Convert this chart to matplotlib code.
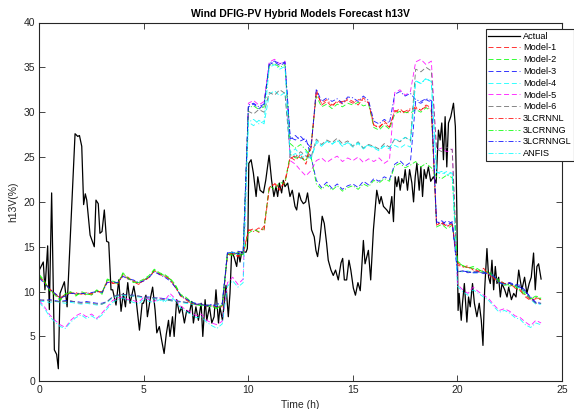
import matplotlib
matplotlib.use('Agg')
import matplotlib.pyplot as plt
import numpy as np

# Datos (h13V en %)
actual_pts = [
    (0.00, 12.4), (0.19, 13.3), (0.27, 10.2), (0.40, 15.1), (0.48, 8.0), (0.59, 21.0),
    (0.72, 3.5), (0.83, 3.0), (0.91, 1.4), (0.99, 9.8), (1.20, 11.1), (1.33, 8.3),
    (1.71, 27.6), (1.84, 27.3), (1.92, 27.4), (2.03, 26.2), (2.12, 19.7), (2.20, 20.9),
    (2.27, 20.2), (2.43, 16.3), (2.63, 15.0), (2.71, 20.2), (2.82, 19.8), (2.90, 16.5),
    (3.00, 16.7), (3.11, 19.1), (3.22, 15.6), (3.32, 15.5), (3.43, 10.2), (3.51, 10.2),
    (3.67, 8.5), (3.80, 11.3), (3.91, 7.8), (4.02, 9.8), (4.12, 8.3), (4.23, 11.0),
    (4.34, 8.7), (4.52, 10.6), (4.63, 9.1), (4.79, 5.7), (4.92, 8.7),
    (4.98, 8.7), (5.10, 9.6), (5.17, 7.2), (5.30, 9.1), (5.42, 10.5), (5.54, 7.9),
    (5.62, 5.4), (5.74, 6.1), (5.85, 4.6), (5.97, 3.1), (6.07, 5.2), (6.18, 6.8),
    (6.25, 5.0), (6.37, 7.2), (6.45, 5.0), (6.57, 9.1), (6.70, 7.6), (6.81, 8.3),
    (6.94, 6.5), (7.05, 7.9), (7.18, 7.6), (7.29, 8.9), (7.37, 6.5), (7.49, 8.3),
    (7.61, 6.8), (7.74, 8.7), (7.82, 5.0), (7.93, 9.1), (8.01, 6.8), (8.14, 8.3),
    (8.25, 6.5), (8.36, 7.2), (8.45, 10.2), (8.57, 6.5), (8.64, 8.3), (8.76, 6.8),
    (8.93, 10.7), (9.04, 7.2), (9.12, 9.8), (9.20, 14.4), (9.31, 13.9), (9.44, 12.8),
    (9.52, 14.4), (9.60, 13.3), (9.68, 14.4), (9.89, 14.4), (9.95, 14.8), (9.98, 16.9),
    (10.02, 24.3), (10.13, 24.7), (10.24, 23.2), (10.37, 20.6), (10.45, 22.8), (10.56, 21.3),
    (10.72, 21.0), (10.83, 22.4), (10.99, 25.2), (11.11, 22.4), (11.22, 20.6), (11.32, 21.7),
    (11.40, 20.6), (11.48, 22.1), (11.59, 21.0), (11.67, 22.4), (11.75, 21.7), (11.88, 22.1),
    (11.99, 20.6), (12.10, 21.3), (12.23, 19.5), (12.31, 19.1), (12.42, 21.0), (12.52, 20.2),
    (12.63, 19.8), (12.74, 20.0), (12.83, 21.0), (12.94, 19.1), (13.02, 16.9), (13.15, 16.1),
    (13.23, 14.6), (13.31, 13.9), (13.42, 15.8), (13.53, 18.4), (13.63, 17.6), (13.74, 15.4),
    (13.82, 13.5), (13.95, 12.4), (14.06, 11.8), (14.17, 12.4), (14.30, 11.3), (14.43, 13.2),
    (14.51, 13.7), (14.59, 11.3), (14.70, 11.3), (14.81, 13.5), (14.90, 12.4), (15.02, 10.4),
    (15.12, 9.6), (15.24, 11.0), (15.35, 10.1), (15.42, 12.6), (15.50, 15.7), (15.58, 13.1),
    (15.74, 14.6), (15.85, 11.3), (15.98, 16.9), (16.14, 21.3), (16.27, 19.8), (16.35, 20.6),
    (16.46, 19.5), (16.62, 19.1), (16.74, 18.7), (16.86, 20.6), (16.94, 17.8), (17.02, 22.8),
    (17.10, 21.7), (17.18, 22.8), (17.26, 21.3), (17.34, 22.6), (17.42, 22.1), (17.50, 23.6),
    (17.61, 21.3), (17.71, 23.6), (17.82, 22.1), (17.90, 20.0), (17.98, 22.8), (18.06, 24.3),
    (18.17, 21.3), (18.25, 23.9), (18.33, 20.6), (18.41, 23.6), (18.50, 22.6), (18.61, 23.9),
    (18.72, 22.3), (18.85, 22.8), (18.98, 22.1), (19.09, 28.0), (19.17, 26.9), (19.25, 28.8),
    (19.33, 24.7), (19.41, 29.5), (19.49, 23.9), (19.57, 28.8), (19.68, 29.5), (19.81, 31.0),
    (19.90, 28.4), (19.97, 19.1), (20.03, 7.9), (20.08, 9.8), (20.18, 6.8), (20.24, 8.7),
    (20.33, 10.9), (20.45, 6.6), (20.53, 9.4), (20.61, 8.3), (20.72, 10.9), (20.81, 8.7),
    (20.93, 7.2), (21.04, 8.7), (21.14, 6.8), (21.22, 4.0), (21.30, 10.2), (21.41, 14.8),
    (21.49, 11.6), (21.57, 10.9), (21.65, 13.5), (21.73, 10.2), (21.81, 12.8), (21.89, 10.9),
    (21.97, 11.6), (22.05, 9.4), (22.13, 10.9), (22.26, 10.2), (22.37, 9.4), (22.45, 10.5),
    (22.58, 9.1), (22.69, 9.8), (22.80, 9.4), (22.93, 12.4), (23.00, 11.3), (23.08, 10.2),
    (23.21, 11.6), (23.32, 9.8), (23.43, 10.9), (23.53, 11.6), (23.64, 14.3), (23.72, 10.2),
    (23.80, 12.8), (23.88, 13.1), (24.00, 11.4),
]

# tiempo de los modelos (cada 15 min)
hours = np.arange(0, 24.01, 0.25)

model_1 = [
    11.7, 11.0, 10.3, 9.8, 9.2, 9.6, 9.9, 9.7,
    9.9, 9.6, 9.8, 10.1, 9.8, 11.2, 11.0, 10.8,
    11.9, 11.4, 11.2, 10.9, 11.2, 11.6, 12.3, 12.0,
    11.8, 11.3, 10.6, 9.5, 9.2, 8.8, 8.5, 8.6,
    8.3, 8.5, 8.2, 8.4, 14.0, 14.2, 13.9, 14.3,
    16.8, 17.0, 16.6, 17.3, 21.5, 22.0, 21.3, 22.4,
    25.0, 24.6, 25.3, 24.2, 26.0, 32.5, 30.8, 31.2,
    30.6, 31.3, 30.9, 31.5, 31.2, 30.8, 31.6, 31.0,
    28.6, 28.2, 29.0, 28.4, 30.0, 30.4, 29.8, 30.3,
    30.6, 30.2, 30.8, 30.5, 17.4, 17.8, 17.2, 17.7,
    13.0, 12.7, 12.9, 12.4, 12.2, 12.6, 11.9, 11.4,
    11.1, 10.8, 11.0, 10.4, 10.1, 9.4, 9.0, 9.2,
    9.1]

model_2 = [
    11.9, 11.2, 10.1, 9.6, 9.0, 9.8, 10.0, 9.5,
    10.0, 9.8, 9.6, 10.2, 9.7, 11.4, 11.2, 10.9,
    12.1, 11.5, 11.0, 11.1, 11.4, 11.8, 12.5, 12.1,
    11.9, 11.5, 10.8, 9.7, 9.4, 8.9, 8.6, 8.4,
    8.5, 8.3, 8.1, 8.5, 14.2, 14.0, 14.4, 14.1,
    16.5, 16.9, 16.7, 17.0, 21.8, 21.4, 22.2, 22.0,
    25.3, 24.9, 25.0, 24.5, 26.5, 31.8, 30.6, 30.9,
    30.4, 30.9, 30.6, 31.0, 30.8, 31.1, 30.7, 30.9,
    28.3, 28.0, 28.6, 28.1, 29.8, 30.1, 30.0, 29.9,
    30.3, 30.0, 30.5, 30.1, 17.2, 17.5, 17.0, 17.4,
    13.4, 12.9, 12.6, 12.8, 12.5, 12.1, 12.3, 11.6,
    11.3, 10.9, 10.6, 10.8, 10.3, 9.8, 9.2, 9.5,
    9.3]

model_3 = [
    9.1, 9.0, 9.1, 9.0, 8.9, 9.0, 8.9, 8.9,
    8.8, 8.9, 8.8, 8.7, 8.7, 8.9, 9.4, 9.6,
    9.7, 9.6, 9.6, 9.5, 9.4, 9.4, 9.3, 9.3,
    9.2, 9.1, 9.0, 8.9, 8.8, 8.8, 8.7, 8.6,
    8.5, 8.5, 8.6, 8.7, 14.4, 14.3, 14.5, 14.4,
    30.6, 30.9, 30.4, 30.8, 35.3, 35.6, 35.2, 35.5,
    27.0, 27.4, 26.8, 27.1, 25.0, 22.4, 21.6, 22.2,
    21.5, 22.0, 21.4, 21.8, 22.0, 21.6, 22.3, 21.9,
    22.6, 22.3, 22.8, 22.5, 24.2, 24.6, 24.0, 24.4,
    31.2, 31.0, 31.4, 31.1, 17.8, 17.5, 17.9, 17.6,
    12.2, 12.3, 12.1, 12.2, 12.2, 12.0, 12.1, 11.8,
    11.0, 10.9, 11.0, 10.8, 10.7, 10.1, 9.3, 8.7,
    8.7]

model_4 = [
    8.9, 8.9, 8.8, 8.9, 8.8, 8.7, 8.8, 8.7,
    8.6, 8.7, 8.6, 8.5, 8.6, 8.8, 9.3, 9.5,
    9.6, 9.5, 9.5, 9.4, 9.3, 9.2, 9.2, 9.1,
    9.0, 9.0, 8.9, 8.8, 8.7, 8.6, 8.6, 8.5,
    8.4, 8.3, 8.5, 8.6, 14.2, 14.4, 14.1, 14.3,
    28.9, 28.5, 29.1, 28.7, 32.0, 32.4, 31.8, 32.2,
    25.5, 25.9, 25.2, 25.6, 24.8, 26.6, 26.2, 26.8,
    26.4, 26.9, 26.3, 26.6, 26.1, 26.5, 25.9, 26.3,
    26.0, 25.7, 26.2, 25.9, 26.3, 26.0, 26.4, 26.1,
    33.5, 33.2, 33.8, 33.4, 23.3, 23.1, 23.4, 23.2,
    12.3, 12.2, 12.3, 12.1, 12.1, 12.2, 12.0, 11.6,
    11.0, 10.8, 10.9, 10.6, 10.4, 9.9, 9.1, 8.6,
    8.6]

model_5 = [
    9.0, 8.3, 7.4, 6.8, 6.3, 6.0, 6.8, 7.3,
    7.6, 7.2, 7.5, 7.0, 7.6, 8.3, 9.0, 9.3,
    9.4, 9.1, 9.0, 8.8, 9.4, 9.1, 8.9, 9.3,
    9.0, 9.8, 9.2, 8.4, 8.0, 7.7, 7.3, 7.5,
    6.8, 6.5, 6.3, 6.7, 11.0, 11.6, 10.8, 11.4,
    31.0, 31.3, 30.8, 31.2, 35.6, 35.9, 35.4, 35.7,
    24.6, 24.2, 23.5, 22.9, 23.5, 24.6, 24.9, 24.4,
    24.8, 25.1, 24.5, 24.9, 24.6, 25.0, 24.4, 24.8,
    24.5, 24.9, 24.3, 24.7, 32.2, 32.5, 31.9, 32.3,
    35.6, 35.9, 35.3, 35.7, 25.8, 26.0, 25.6, 25.9,
    10.8, 10.2, 9.8, 10.5, 10.0, 9.6, 9.2, 8.5,
    7.9, 8.1, 7.8, 7.3, 7.1, 6.6, 6.2, 6.8,
    6.5]

model_6 = [
    9.0, 9.1, 9.0, 8.9, 8.9, 8.9, 9.0, 8.8,
    8.7, 8.8, 8.7, 8.6, 8.6, 8.9, 9.4, 9.6,
    9.7, 9.6, 9.5, 9.5, 9.4, 9.3, 9.3, 9.2,
    9.1, 9.0, 8.9, 8.9, 8.8, 8.7, 8.6, 8.6,
    8.5, 8.4, 8.6, 8.7, 14.3, 14.2, 14.4, 14.2,
    30.1, 29.8, 30.3, 30.0, 32.2, 31.9, 32.5, 32.1,
    25.3, 25.0, 25.6, 25.1, 25.0, 27.0, 26.4, 26.9,
    26.6, 27.1, 26.5, 26.8, 26.2, 26.7, 26.0, 26.4,
    26.2, 25.9, 26.5, 26.1, 27.0, 26.7, 27.2, 26.8,
    34.8, 34.5, 35.0, 34.6, 25.9, 25.6, 26.1, 25.8,
    12.2, 12.3, 12.2, 12.2, 12.2, 12.1, 12.0, 11.7,
    11.0, 10.9, 10.9, 10.7, 10.5, 10.0, 9.2, 8.7,
    8.7]

lcrnnl = [
    11.6, 11.1, 10.2, 9.7, 9.3, 9.7, 9.8, 9.9,
    9.7, 9.9, 9.7, 10.0, 10.0, 11.1, 10.9, 11.0,
    11.8, 11.6, 11.1, 10.8, 11.3, 11.5, 12.4, 11.9,
    11.7, 11.4, 10.5, 9.6, 9.1, 8.7, 8.6, 8.5,
    8.4, 8.4, 8.3, 8.3, 14.1, 14.3, 14.0, 14.2,
    16.9, 16.7, 17.1, 16.8, 21.6, 22.1, 21.5, 22.2,
    24.8, 25.2, 24.9, 24.7, 26.2, 32.2, 31.0, 31.4,
    30.8, 31.1, 31.2, 31.3, 31.0, 31.4, 31.3, 31.1,
    28.5, 28.4, 28.8, 28.3, 30.2, 30.0, 30.1, 30.4,
    30.4, 30.3, 30.6, 30.3, 17.5, 17.6, 17.3, 17.5,
    13.2, 12.8, 12.7, 12.5, 12.3, 12.4, 12.0, 11.5,
    11.2, 10.9, 10.8, 10.5, 10.2, 9.6, 9.1, 9.3,
    9.2]

lcrnng = [
    11.8, 11.0, 10.2, 9.7, 9.1, 9.7, 9.9, 9.6,
    9.8, 9.7, 9.7, 10.1, 9.9, 11.3, 11.1, 10.9,
    12.0, 11.5, 11.1, 11.0, 11.3, 11.7, 12.4, 12.0,
    11.8, 11.4, 10.7, 9.6, 9.3, 8.8, 8.5, 8.5,
    8.4, 8.4, 8.2, 8.4, 14.3, 14.1, 14.2, 14.0,
    30.5, 30.7, 30.3, 30.6, 35.2, 35.4, 35.0, 35.3,
    26.5, 26.0, 26.4, 25.8, 25.0, 22.0, 21.4, 21.9,
    21.3, 21.8, 21.2, 21.6, 21.8, 21.4, 22.0, 21.7,
    22.4, 22.1, 22.6, 22.3, 24.0, 24.3, 23.8, 24.1,
    24.5, 23.9, 24.3, 23.8, 22.8, 22.6, 23.0, 22.7,
    13.3, 12.9, 12.7, 12.6, 12.4, 12.2, 12.1, 11.7,
    11.1, 10.7, 10.8, 10.6, 10.0, 9.7, 9.2, 9.4,
    9.2]

lcrnngl = [
    11.5, 10.9, 10.3, 9.8, 9.3, 9.5, 9.8, 9.8,
    9.8, 9.8, 9.9, 10.0, 9.9, 11.0, 11.1, 11.0,
    11.7, 11.4, 11.3, 11.0, 11.2, 11.6, 12.2, 11.9,
    11.6, 11.2, 10.5, 9.6, 9.2, 8.9, 8.6, 8.6,
    8.4, 8.6, 8.3, 8.5, 14.3, 14.4, 14.2, 14.3,
    30.8, 31.0, 30.6, 30.9, 35.5, 35.7, 35.4, 35.6,
    27.2, 26.9, 27.3, 26.7, 26.0, 32.6, 31.2, 31.6,
    31.2, 31.5, 31.0, 31.7, 31.6, 31.2, 31.8, 31.3,
    29.0, 28.7, 29.2, 28.8, 32.0, 32.3, 31.8, 32.1,
    31.4, 31.2, 31.5, 31.3, 17.6, 17.9, 17.4, 17.8,
    12.2, 12.3, 12.2, 12.1, 12.1, 12.2, 11.9, 11.7,
    11.0, 10.8, 10.9, 10.7, 10.5, 10.0, 9.4, 8.8,
    8.8]

anfis = [
    8.8, 8.1, 7.2, 6.6, 6.1, 5.9, 6.6, 7.1,
    7.4, 7.0, 7.3, 6.9, 7.4, 8.1, 8.8, 9.1,
    9.3, 9.0, 8.8, 8.6, 9.2, 8.9, 8.8, 9.1,
    8.8, 9.5, 9.0, 8.2, 7.8, 7.5, 7.1, 7.2,
    6.6, 6.2, 5.9, 6.4, 10.6, 11.2, 10.5, 11.0,
    28.9, 29.2, 28.7, 29.0, 35.0, 35.3, 34.8, 35.1,
    25.0, 25.4, 24.8, 25.2, 24.8, 26.8, 26.3, 26.7,
    26.5, 26.8, 26.2, 26.6, 26.3, 26.6, 26.0, 26.4,
    26.1, 25.8, 26.3, 26.0, 27.0, 26.8, 27.2, 26.9,
    33.5, 33.2, 33.7, 33.4, 23.2, 23.4, 23.0, 23.3,
    10.6, 10.0, 9.6, 10.2, 9.8, 9.4, 9.0, 8.3,
    7.7, 7.9, 7.6, 7.1, 6.9, 6.3, 6.0, 6.5,
    6.3]

model_names = ['Model-1', 'Model-2', 'Model-3', 'Model-4', 'Model-5', 'Model-6',
               '3LCRNNL', '3LCRNNG', '3LCRNNGL', 'ANFIS']
model_values = [model_1, model_2, model_3, model_4, model_5, model_6,
                lcrnnl, lcrnng, lcrnngl, anfis]
model_colors = ['#ff0000', '#00ff00', '#0000ff', '#00ffff', '#ff00ff', '#666666',
                '#ff0000', '#00ff00', '#0000ff', '#00ffff']
dash = (0, (3.6, 2.0))
dashdot = (0, (3.6, 1.4, 0.8, 1.4))
model_styles = [dash] * 6 + [dashdot] * 4

plt.rcParams['font.family'] = ['Liberation Sans', 'DejaVu Sans']
plt.rcParams['lines.scale_dashes'] = False

fig = plt.figure(figsize=(5.74, 4.09), dpi=100)
W, H = 574, 409
ax = fig.add_axes([39.3 / W, 1 - 381.3 / H, (562 - 39.3) / W, (381.3 - 22.5) / H])

t_act, y_act = zip(*actual_pts)
ax.plot(t_act, y_act, color='k', lw=0.9, label='Actual')
for name, vals, col, ls in zip(model_names, model_values, model_colors, model_styles):
    ax.plot(hours, vals, color=col, linestyle=ls, lw=0.65, alpha=0.85, label=name)

ax.set_xlim(0, 25)
ax.set_ylim(0, 40)
ax.set_xticks(np.arange(0, 26, 5))
ax.set_yticks(np.arange(0, 41, 5))
ax.tick_params(direction='in', top=True, right=True, length=4, width=0.6,
               labelsize=7.5, colors='#262626', pad=3)
for sp in ax.spines.values():
    sp.set_color('#262626')
    sp.set_linewidth(0.8)

ax.set_title('Wind DFIG-PV Hybrid Models Forecast h13V', fontsize=7.5,
             fontweight='bold', pad=4)
ax.set_xlabel('Time (h)', fontsize=7.5, labelpad=3, color='#262626')
ax.set_ylabel('h13V(%)', fontsize=7.5, labelpad=4, color='#262626')

leg = ax.legend(loc='upper left', bbox_to_anchor=(485.7 / W, 1 - 29 / H),
                bbox_transform=fig.transFigure, fontsize=6.6, frameon=True,
                fancybox=False, edgecolor='#262626', framealpha=1,
                borderpad=0.3, labelspacing=0.3, handlelength=3.4,
                handletextpad=0.35, borderaxespad=0)
leg.get_frame().set_linewidth(0.8)

fig.savefig('out.png', dpi=100)
